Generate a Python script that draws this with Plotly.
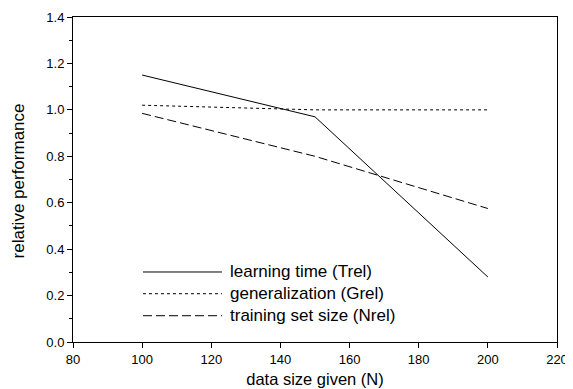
import plotly.graph_objects as go

x_vals = [100, 150, 200]
trel = [1.15, 0.97, 0.28]
grel = [1.02, 1.00, 1.00]
nrel = [0.985, 0.80, 0.575]

names = ["learning time (Trel)", "generalization (Grel)", "training set size (Nrel)"]
dashes = ["solid", "3px,3px", "9px,4px"]
series = [trel, grel, nrel]

x_ticks = [80, 100, 120, 140, 160, 180, 200, 220]
y_ticks = [0.0, 0.2, 0.4, 0.6, 0.8, 1.0, 1.2, 1.4]

font_family = "Liberation Sans, Arial, sans-serif"

fig = go.Figure()
for name, ys, d in zip(names, series, dashes):
    fig.add_trace(go.Scatter(x=x_vals, y=ys, mode="lines", name=name,
                             line=dict(color="black", width=1, dash=d),
                             showlegend=False))

# manual legend (long sample lines like the original)
leg_y = [0.2154, 0.1486, 0.0809]
for name, d, yy in zip(names, dashes, leg_y):
    fig.add_shape(type="line", xref="paper", yref="paper",
                  x0=0.1446, x1=0.3079, y0=yy, y1=yy,
                  line=dict(color="black", width=1, dash=d))
    fig.add_annotation(xref="paper", yref="paper", x=0.3202, y=yy,
                       text=name, showarrow=False, xanchor="left", yanchor="middle",
                       font=dict(size=17, color="black", family=font_family))

# y-axis title placed as rotated text close to the left edge
fig.add_annotation(xref="paper", yref="paper", x=-0.1136, y=0.494,
                   text="relative performance", textangle=-90, showarrow=False,
                   xanchor="center", yanchor="middle",
                   font=dict(size=17, color="black", family=font_family))

fig.update_layout(
    width=573, height=389,
    margin=dict(l=65, r=24, t=9, b=55),
    paper_bgcolor="white", plot_bgcolor="white",
    font=dict(family=font_family, size=13, color="black"),
    xaxis=dict(range=[80, 220], tickvals=x_ticks, ticks="outside", ticklen=5,
               tickcolor="black", showline=True, linecolor="black", linewidth=1,
               mirror=True, showgrid=False, zeroline=False, automargin=False,
               tickfont=dict(size=13),
               title=dict(text="data size given (N)", standoff=7,
                          font=dict(size=16.5))),
    yaxis=dict(range=[0, 1.4], tickvals=y_ticks, tickformat=".1f",
               ticks="outside", ticklen=5, tickcolor="black",
               showline=True, linecolor="black", linewidth=1, mirror=True,
               showgrid=False, zeroline=False, automargin=False,
               tickfont=dict(size=13),
               minor=dict(dtick=0.1, ticks="outside", ticklen=3, tickcolor="black", showgrid=False)),
)

fig.write_html("out.html")
